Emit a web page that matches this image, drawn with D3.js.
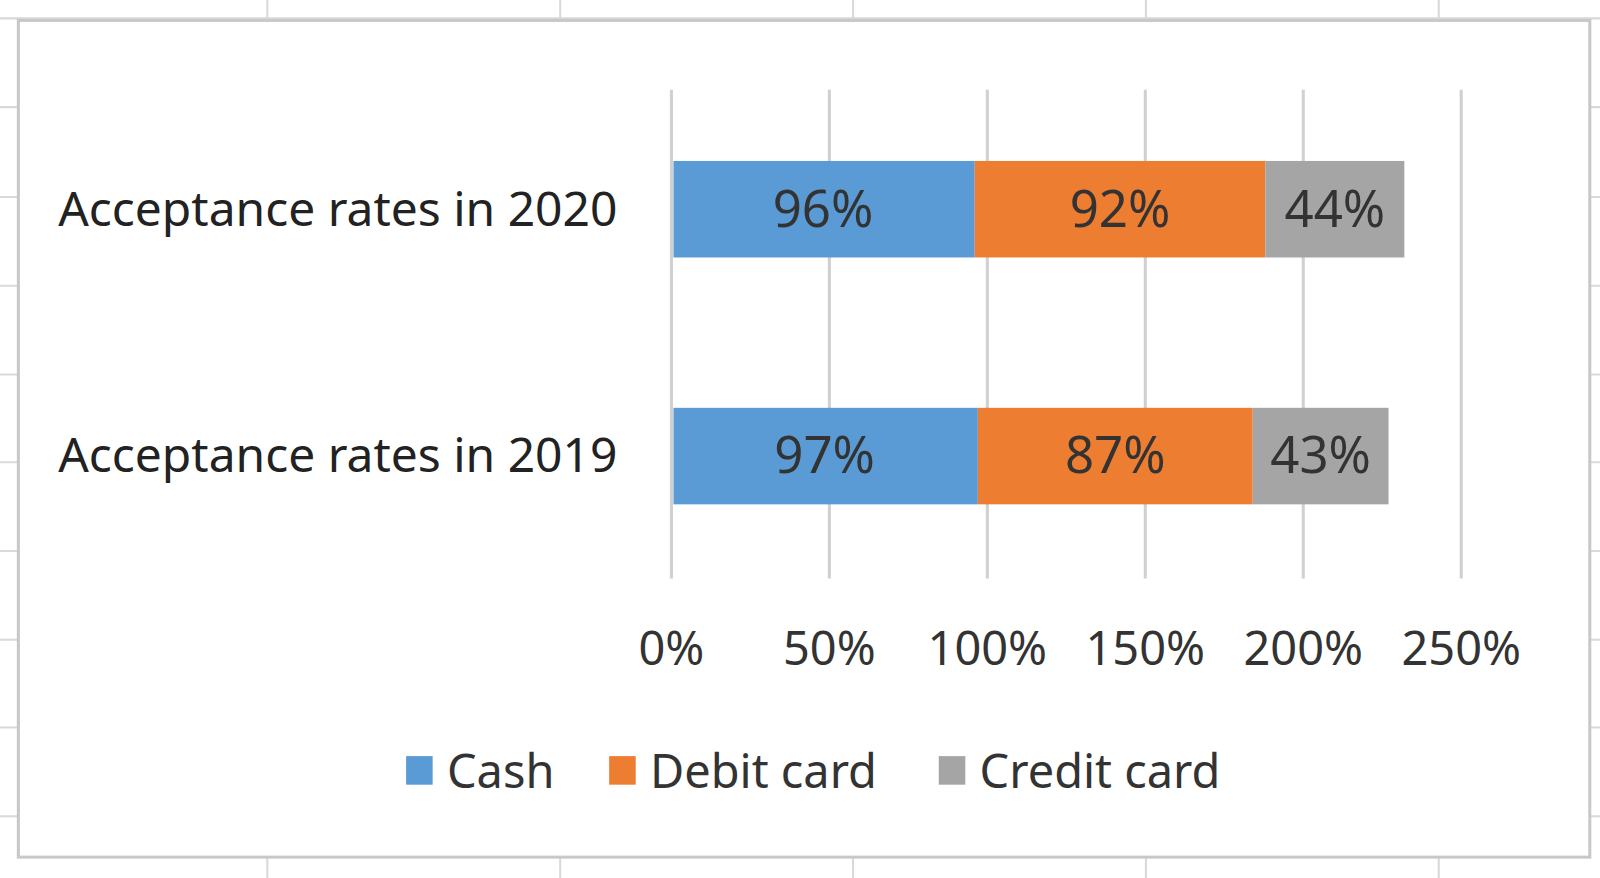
<!DOCTYPE html>
<html><head><meta charset="utf-8">
<script src="https://cdn.jsdelivr.net/npm/d3@7"></script>
<style>body{margin:0;background:#fff}</style></head>
<body><svg id="c" width="1600" height="878"></svg>
<script>
const categories = ["Acceptance rates in 2020", "Acceptance rates in 2019"];
const seriesNames = ["Cash", "Debit card", "Credit card"];
const cash = [96, 97];
const debit = [92, 87];
const credit = [44, 43];
const ticks = [0, 50, 100, 150, 200, 250];
const colors = ["#5B9BD5", "#ED7D31", "#A5A5A5"];
const font = "'Noto Sans', sans-serif";

const svg = d3.select("#c").append("g").attr("transform","scale(1.0204)");
[262,549,836,1123,1410].forEach(x=>svg.append("line").attr("x1",x).attr("x2",x).attr("y1",0).attr("y2",878).attr("stroke","#d9d9d9").attr("stroke-width",2));
[18,105,193,280,367,453,540,627,713,800].forEach(y=>svg.append("line").attr("x1",0).attr("x2",1600).attr("y1",y).attr("y2",y).attr("stroke","#d9d9d9").attr("stroke-width",2));
svg.append("rect").attr("x",18).attr("y",20).attr("width",1540).attr("height",820).attr("fill","#fff").attr("stroke","#c8c8c8").attr("stroke-width",3);

const x = d3.scaleLinear().domain([0,250]).range([658,1432]);
const y = d3.scaleBand().domain(categories).range([90,562]).paddingInner(0.609).paddingOuter(0.28);

svg.append("g").selectAll("line").data(ticks).join("line")
  .attr("x1",d=>x(d)).attr("x2",d=>x(d)).attr("y1",88).attr("y2",567)
  .attr("stroke","#d0d0d0").attr("stroke-width",3);
svg.append("g").selectAll("text").data(ticks).join("text")
  .attr("x",d=>x(d)).attr("y",652).attr("text-anchor","middle")
  .attr("font-family",font).attr("font-size",46).attr("fill","#333").text(d=>d+"%");

const data = categories.map((c,i)=>({cat:c, vals:[cash[i],debit[i],credit[i]]}));
data.forEach(d=>{
  let acc=0;
  d.vals.forEach((v,j)=>{
    const x0=x(acc), x1=x(acc+v); acc+=v;
    svg.append("rect").attr("x",x0+(j==0?2:0)).attr("y",y(d.cat)).attr("width",x1-x0-(j==0?2:0)).attr("height",y.bandwidth()).attr("fill",colors[j]);
    svg.append("text").attr("x",(x0+x1)/2).attr("y",y(d.cat)+y.bandwidth()/2+17)
      .attr("text-anchor","middle").attr("font-family",font).attr("font-size",50).attr("fill","#333").text(v+"%");
  });
  svg.append("text").attr("x",605).attr("y",y(d.cat)+y.bandwidth()/2+16).attr("text-anchor","end")
    .attr("font-family",font).attr("font-size",47).attr("fill","#222").text(d.cat);
});

const legX=[398,597,920];
seriesNames.forEach((s,i)=>{
  svg.append("rect").attr("x",legX[i]).attr("y",741).attr("width",26).attr("height",28).attr("fill",colors[i]);
  svg.append("text").attr("x",legX[i]+40).attr("y",772).attr("font-family",font).attr("font-size",46).attr("fill","#333").text(s);
});
</script></body></html>
